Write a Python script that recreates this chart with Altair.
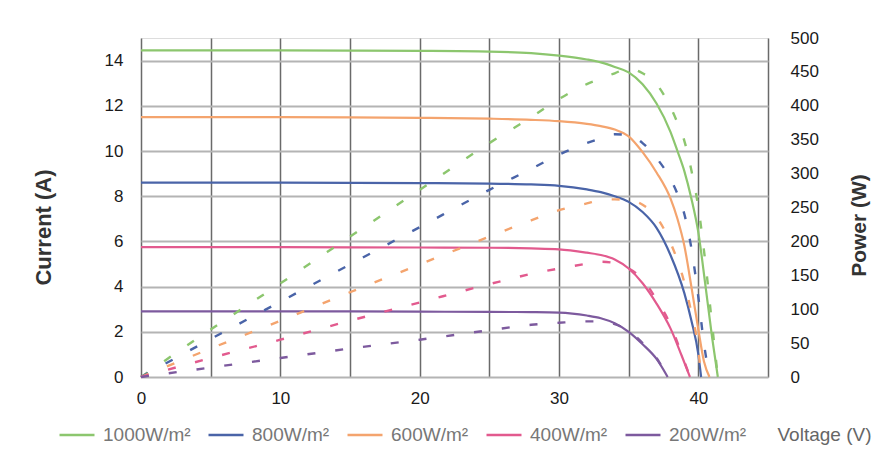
import altair as alt
import pandas as pd

SERIES = ["1000W/m²", "800W/m²", "600W/m²", "400W/m²", "200W/m²"]

# Voltage (V), current (A, left axis) and power (W, right axis)
V_1000 = [0, 5, 10, 15, 20, 25, 28, 30, 32, 33, 34, 35, 36, 37, 38, 38.5, 39, 39.5, 40, 40.5, 41, 41.4]
I_1000 = [14.45, 14.45, 14.45, 14.44, 14.43, 14.4, 14.33, 14.22, 14.05, 13.92, 13.72, 13.48, 12.95, 12.1, 10.85, 10.0, 9.1, 7.9, 6.4, 4.1, 1.7, 0]
P_1000 = [0, 70, 138, 207, 276, 345, 383, 410, 432, 440, 448, 455, 448, 432, 398, 375, 348, 305, 250, 170, 75, 0]

V_800 = [0, 5, 10, 15, 20, 25, 28, 30, 32, 33, 34, 35, 36, 37, 38, 38.5, 39, 39.5, 40, 40.4, 40.8]
I_800 = [11.5, 11.5, 11.5, 11.49, 11.47, 11.43, 11.38, 11.32, 11.2, 11.1, 10.95, 10.65, 9.95, 9.05, 7.9, 7.0, 5.8, 4.0, 2.1, 0.7, 0]
P_800 = [0, 56, 111, 166, 221, 276, 307, 328, 345, 352, 358, 357, 345, 323, 292, 270, 240, 190, 118, 50, 0]

V_600 = [0, 5, 10, 15, 20, 25, 28, 30, 32, 33, 34, 35, 36, 37, 38, 39, 39.5, 40, 40.2]
I_600 = [8.6, 8.6, 8.6, 8.59, 8.58, 8.56, 8.52, 8.46, 8.3, 8.18, 8.0, 7.75, 7.3, 6.6, 5.4, 3.7, 2.5, 1.0, 0]
P_600 = [0, 42, 83, 125, 166, 207, 231, 246, 256, 261, 262, 261, 254, 236, 198, 139, 95, 40, 0]

V_400 = [0, 5, 10, 15, 20, 25, 28, 30, 32, 33, 34, 35, 36, 37, 38, 38.8, 39.4]
I_400 = [5.75, 5.75, 5.75, 5.74, 5.73, 5.72, 5.69, 5.65, 5.5, 5.4, 5.2, 4.8, 4.15, 3.25, 2.15, 0.95, 0]
P_400 = [0, 28, 55, 83, 110, 137, 152, 160, 167, 170, 168, 160, 144, 114, 77, 34, 0]

V_200 = [0, 5, 10, 15, 20, 25, 28, 30, 32, 33, 34, 35, 36, 37, 37.8]
I_200 = [2.9, 2.9, 2.9, 2.9, 2.89, 2.88, 2.87, 2.85, 2.72, 2.6, 2.38, 2.0, 1.45, 0.8, 0]
P_200 = [0, 14, 28, 42, 55, 69, 77, 80, 82, 82, 78, 68, 50, 28, 0]

X_TICKS = [0, 5, 10, 15, 20, 25, 30, 35, 40, 45]
I_TICKS = [0, 2, 4, 6, 8, 10, 12, 14]
P_TICKS = [0, 50, 100, 150, 200, 250, 300, 350, 400, 450, 500]

LEGEND_COLORS = ["#8cc66e", "#4a64a8", "#f4a46e", "#e25a8e", "#7d5a9e"]
IV_COLORS = ["#8cc66e", "#f4a46e", "#4a64a8", "#e25a8e", "#7d5a9e"]

rows = []
for name, vs, cs, ps in [
    (SERIES[0], V_1000, I_1000, P_1000),
    (SERIES[1], V_800, I_800, P_800),
    (SERIES[2], V_600, I_600, P_600),
    (SERIES[3], V_400, I_400, P_400),
    (SERIES[4], V_200, I_200, P_200),
]:
    for i, (v, c, p) in enumerate(zip(vs, cs, ps)):
        rows.append({"series": name, "V": v, "I": c, "P": p, "order": i})
df = pd.DataFrame(rows)

FONT = "Liberation Sans"

x_enc = alt.X(
    "V:Q",
    scale=alt.Scale(domain=[0, 45], nice=False),
    axis=alt.Axis(
        values=X_TICKS,
        labelExpr="datum.value % 10 == 0 ? datum.label : ''",
        grid=True, gridColor="#6a6a6a", gridWidth=1.5,
        ticks=False, domain=False,
        labelFont=FONT, labelFontSize=17, labelColor="#1a1a1a", labelPadding=13,
        labelFlush=False,
        title="Voltage (V)", titleFont=FONT, titleFontSize=19, titleFontWeight="normal",
        titleColor="#666", titleX=636, titleY=57, titleAlign="left", titleBaseline="middle",
    ),
)

iv = alt.Chart(df).mark_line(strokeWidth=2.2, interpolate="monotone").encode(
    x=x_enc,
    y=alt.Y(
        "I:Q",
        scale=alt.Scale(domain=[0, 15], nice=False),
        axis=alt.Axis(
            values=I_TICKS, orient="left",
            grid=True, gridColor="#b4b4b4", gridWidth=2,
            ticks=False, domain=False,
            labelFont=FONT, labelFontSize=17, labelColor="#1a1a1a", labelPadding=18,
            title="Current (A)", titleFont=FONT, titleFontSize=22, titleFontWeight="bold",
            titleColor="#333", titleX=-98, titleY=189, titleAngle=270,
            titleAlign="center", titleBaseline="middle",
        ),
    ),
    color=alt.Color("series:N", scale=alt.Scale(domain=SERIES, range=IV_COLORS), legend=None),
    detail="series:N",
    order="order:Q",
)

pv = alt.Chart(df).mark_line(strokeWidth=2.4, strokeDash=[8, 20], interpolate="monotone").encode(
    x=x_enc,
    y=alt.Y(
        "P:Q",
        scale=alt.Scale(domain=[0, 500], nice=False),
        axis=alt.Axis(
            values=P_TICKS, orient="right",
            grid=False, ticks=False, domain=False,
            labelFont=FONT, labelFontSize=17, labelColor="#1a1a1a", labelPadding=22,
            title="Power (W)", titleFont=FONT, titleFontSize=21, titleFontWeight="bold",
            titleColor="#333", titleX=91, titleY=187, titleAngle=270,
            titleAlign="center", titleBaseline="middle",
        ),
    ),
    color=alt.Color(
        "series:N",
        scale=alt.Scale(domain=SERIES, range=LEGEND_COLORS),
        legend=alt.Legend(
            title=None, orient="none", direction="horizontal",
            legendX=-83, legendY=378,
            symbolType="stroke", symbolSize=1225, symbolStrokeWidth=2.5,
            symbolDash=[1, 0],
            labelFont=FONT, labelFontSize=19, labelColor="#777",
            labelOffset=7, columnPadding=12,
        ),
    ),
    detail="series:N",
    order="order:Q",
)

chart = alt.layer(iv, pv).resolve_scale(y="independent", color="independent").properties(
    width=627,
    height=339,
    autosize=alt.AutoSizeParams(type="none"),
    padding={"left": 133, "top": 30, "right": 105, "bottom": 73},
).configure_view(stroke="#555", strokeWidth=2.5).configure(background="white")

chart.save("out.html", embed_options={"renderer": "svg", "actions": False})
